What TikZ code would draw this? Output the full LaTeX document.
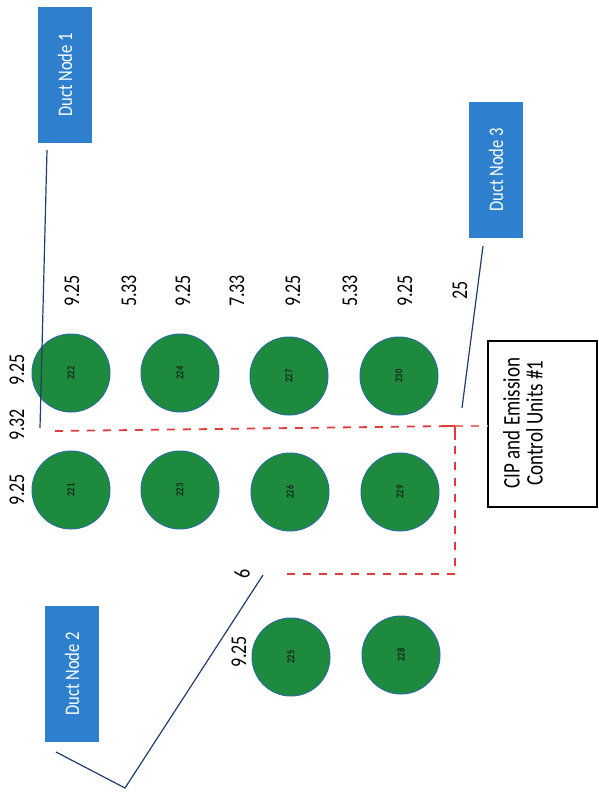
\documentclass[tikz,border=0pt]{standalone}
\usepackage{fontspec}
\setmainfont{Carlito}
\definecolor{ductblue}{RGB}{46,128,206}
\definecolor{ductgreen}{RGB}{30,138,62}
\definecolor{ringblue}{RGB}{40,110,160}
\definecolor{linkblue}{RGB}{35,60,110}
\definecolor{dashred}{RGB}{225,60,60}
\definecolor{labdark}{RGB}{15,40,25}
\newcommand\tallt[1]{\scalebox{1}[1.25]{#1}}
\begin{document}
\begin{tikzpicture}[x=1pt,y=-1pt,
  duct/.style={fill=ductblue, text=white, rotate=90, minimum width=136pt, minimum height=54pt, inner sep=0pt, font=\fontsize{16.5}{16.5}\selectfont},
  tank/.style={circle, fill=ductgreen, draw=ringblue, line width=1pt, minimum size=78pt, inner sep=0pt},
  tanklab/.style={rotate=90, text=labdark, font=\fontsize{8.5}{8.5}\selectfont\bfseries, inner sep=0pt},
  num/.style={rotate=90, inner sep=0pt, font=\fontsize{18}{18}\selectfont},
  link/.style={draw=linkblue, line width=1.2pt},
  reddash/.style={draw=dashred, line width=1.8pt, dash pattern=on 8pt off 8pt}
]
\useasboundingbox (0,0) rectangle (598,795);
\fill[white] (0,0) rectangle (598,795);

% duct nodes
\node[duct] (d1) at (65,75) {\tallt{Duct Node 1}};
\node[duct] (d3) at (496,170) {\tallt{Duct Node 3}};
\node[duct] (d2) at (72,674) {\tallt{Duct Node 2}};

% CIP box
\node[draw=black, line width=1.6pt, minimum width=109pt, minimum height=166pt, inner sep=0pt] (cip) at (542.5,424) {};
\node[rotate=90, align=center, inner sep=0pt, font=\fontsize{19}{23}\selectfont] (ciptext) at (523,423) {\tallt{CIP and Emission}\\\tallt{Control Units \#1}};

% tanks
\foreach \n/\x/\y in {222/71/373, 224/180/373, 227/289/376, 230/399/376,
                      221/71/490, 223/180/490, 226/290/492, 229/400/492,
                      225/291/657, 228/401/655}{
  \node[tank] (t\n) at (\x,\y) {};
  \node[tanklab] (l\n) at (t\n) {\tallt{\n}};
}

% dimension numbers
\node[num] (n1) at (72,291) {\tallt{9.25}};
\node[num] (n2) at (129,291) {\tallt{5.33}};
\node[num] (n3) at (183,291) {\tallt{9.25}};
\node[num] (n4) at (237,291) {\tallt{7.33}};
\node[num] (n5) at (293,291) {\tallt{9.25}};
\node[num] (n6) at (350,291) {\tallt{5.33}};
\node[num] (n7) at (405,291) {\tallt{9.25}};
\node[num] (n8) at (460,290) {\tallt{25}};
\node[num] (n9) at (17,370) {\tallt{9.25}};
\node[num] (n10) at (17,425) {\tallt{9.32}};
\node[num] (n11) at (17,490) {\tallt{9.25}};
\node[num] (n12) at (242,574) {\tallt{6}};
\node[num] (n13) at (239,652) {\tallt{9.25}};

% blue duct links
\coordinate (s1) at (47,150);
\coordinate (e1) at (40,428);
\draw[link] (s1) -- (e1);
\coordinate (s3) at (483,246);
\coordinate (e3) at (462,408);
\draw[link] (s3) -- (e3);
\coordinate (s2) at (56,752);
\coordinate (k2) at (125,788);
\coordinate (e2) at (263,575);
\draw[link] (s2) -- (k2) -- (e2);

% red dashed route
\coordinate (r0) at (55,431);
\coordinate (r1) at (455,426);
\coordinate (r2) at (455,574);
\coordinate (r3) at (287,574);
\draw[reddash] (r0) -- (r1);
\draw[reddash] (r3) -- (r2) -- (r1);
\draw[dashred, line width=1.8pt] (441,426) -- (r1) -- (455,440);
\draw[draw=dashred!70, line width=1.2pt, dash pattern=on 8pt off 8pt] (r1) -- (cip.west |- r1);
\end{tikzpicture}
\end{document}
